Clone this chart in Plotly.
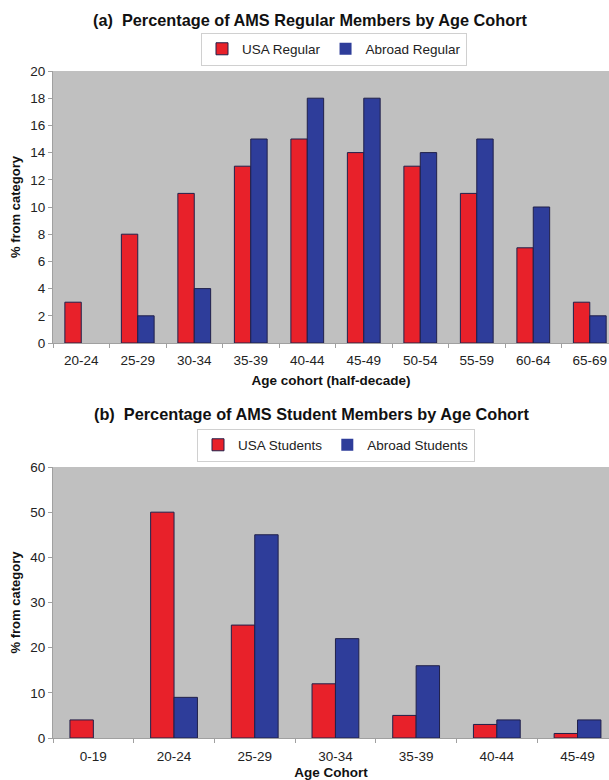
import plotly.graph_objects as go

# ---- data ----
reg_categories = ["20-24", "25-29", "30-34", "35-39", "40-44", "45-49",
                  "50-54", "55-59", "60-64", "65-69"]
usa_regular = [3, 8, 11, 13, 15, 14, 13, 11, 7, 3]
abroad_regular = [0, 2, 4, 15, 18, 18, 14, 15, 10, 2]

stu_categories = ["0-19", "20-24", "25-29", "30-34", "35-39", "40-44", "45-49"]
usa_students = [4, 50, 25, 12, 5, 3, 1]
abroad_students = [0, 9, 45, 22, 16, 4, 4]

RED = "#e8212a"
BLUE = "#2e3d9a"
EDGE = "#20204a"
FONT = "Arial, Liberation Sans, sans-serif"
W, H = 609, 780


def py(page_y):
    """pixel row -> paper fraction"""
    return 1 - page_y / H


def px(page_x):
    return page_x / W


def edge_widths(values):
    # no outline for empty (zero-height) bars
    return [0 if v == 0 else 1 for v in values]


def bar(x, y, name, color, xa, ya, lg):
    return go.Bar(x=x, y=y, name=name,
                  marker=dict(color=color,
                              line=dict(color=EDGE, width=edge_widths(y))),
                  xaxis=xa, yaxis=ya, legend=lg)


fig = go.Figure()
fig.add_trace(bar(reg_categories, usa_regular, "USA Regular", RED, "x", "y", "legend"))
fig.add_trace(bar(reg_categories, abroad_regular, "Abroad Regular", BLUE, "x", "y", "legend"))
fig.add_trace(bar(stu_categories, usa_students, "USA Students", RED, "x2", "y2", "legend2"))
fig.add_trace(bar(stu_categories, abroad_students, "Abroad Students", BLUE, "x2", "y2", "legend2"))

axis_common = dict(showgrid=False, zeroline=False, showline=True,
                   linecolor="#a0a0a0", linewidth=1, ticks="outside",
                   ticklen=4, tickcolor="#a0a0a0", automargin=False,
                   tickfont=dict(family=FONT, size=13.5, color="#222"))

legend_common = dict(orientation="h", xanchor="center", yanchor="middle",
                     bgcolor="white", bordercolor="#d0d0d0", borderwidth=1,
                     font=dict(family=FONT, size=13.5, color="#222"),
                     itemwidth=30, tracegroupgap=0)

xtitle_font = dict(family=FONT, size=13.5, color="#111")
ytitle_font = dict(family=FONT, size=13, color="#111")
title_font = dict(family=FONT, size=16.3, color="#111")

fig.update_layout(
    width=W, height=H,
    margin=dict(l=0, r=0, t=0, b=0, autoexpand=False),
    paper_bgcolor="white",
    plot_bgcolor="#c0c0c0",
    barmode="group", bargap=0.42, bargroupgap=0,
    font=dict(family=FONT, color="#222"),
    xaxis=dict(domain=[px(53), 1], anchor="y", tickson="boundaries",
               range=[-0.5, 9.34], ticklabelstandoff=5,
               title=dict(text="<b>Age cohort (half-decade)</b>",
                          font=xtitle_font, standoff=8),
               **axis_common),
    yaxis=dict(domain=[py(343), py(71)], anchor="x",
               range=[0, 20], dtick=2,
               title=dict(text="<b>% from category</b>",
                          font=ytitle_font, standoff=6),
               **axis_common),
    xaxis2=dict(domain=[px(53), 1], anchor="y2", tickson="boundaries",
                range=[-0.5, 6.39], ticklabelstandoff=6,
                title=dict(text="<b>Age Cohort</b>",
                           font=xtitle_font, standoff=6),
                **axis_common),
    yaxis2=dict(domain=[py(738), py(467)], anchor="x2",
                range=[0, 60], dtick=10,
                title=dict(text="<b>% from category</b>",
                           font=ytitle_font, standoff=6),
                **axis_common),
    legend=dict(x=px(334), y=py(49), **legend_common),
    legend2=dict(x=px(336), y=py(445), **legend_common),
    annotations=[
        dict(text="<b>(a)  Percentage of AMS Regular Members by Age Cohort</b>",
             x=px(310), y=py(20), xref="paper", yref="paper",
             showarrow=False, xanchor="center", yanchor="middle",
             font=title_font),
        dict(text="<b>(b)  Percentage of AMS Student Members by Age Cohort</b>",
             x=px(311), y=py(414), xref="paper", yref="paper",
             showarrow=False, xanchor="center", yanchor="middle",
             font=title_font),
    ],
)

fig.write_html("out.html", config={"displayModeBar": False},
               post_script="document.body.style.margin='0';"
                           "document.body.style.overflow='hidden';")
